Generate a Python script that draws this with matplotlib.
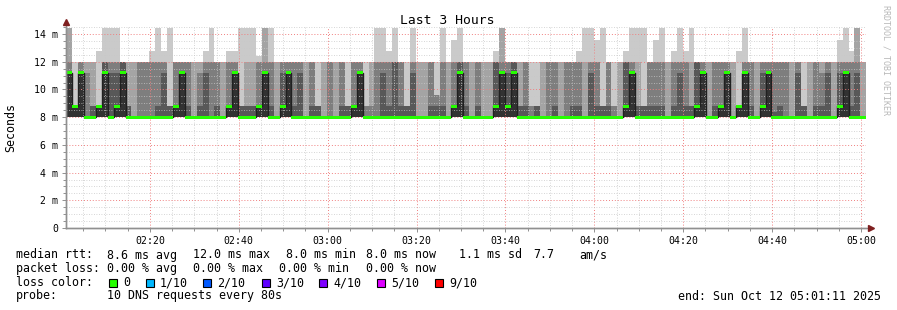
import numpy as np
import matplotlib
matplotlib.use("Agg")
import matplotlib.pyplot as plt

# smokeping "Last 3 Hours", 10 DNS pings every 80 s, values in ms
# the five fastest pings sit on 8.0 ms in every step, so only the upper half is kept
ping_floor = 8.0
median = [11.2, 8.8, 11.2, 8.0, 8.0, 8.8, 11.2, 8.0, 8.8, 11.2,
          8.0, 8.0, 8.0, 8.0, 8.0, 8.0, 8.0, 8.0, 8.8, 11.2,
          8.0, 8.0, 8.0, 8.0, 8.0, 8.0, 8.0, 8.8, 11.2, 8.0,
          8.0, 8.0, 8.8, 11.2, 8.0, 8.0, 8.8, 11.2, 8.0, 8.0,
          8.0, 8.0, 8.0, 8.0, 8.0, 8.0, 8.0, 8.0, 8.8, 11.2,
          8.0, 8.0, 8.0, 8.0, 8.0, 8.0, 8.0, 8.0, 8.0, 8.0,
          8.0, 8.0, 8.0, 8.0, 8.0, 8.8, 11.2, 8.0, 8.0, 8.0,
          8.0, 8.0, 8.8, 11.2, 8.8, 11.2, 8.0, 8.0, 8.0, 8.0,
          8.0, 8.0, 8.0, 8.0, 8.0, 8.0, 8.0, 8.0, 8.0, 8.0,
          8.0, 8.0, 8.0, 8.0, 8.8, 11.2, 8.0, 8.0, 8.0, 8.0,
          8.0, 8.0, 8.0, 8.0, 8.0, 8.0, 8.8, 11.2, 8.0, 8.0,
          8.8, 11.2, 8.0, 8.8, 11.2, 8.0, 8.0, 8.8, 11.2, 8.0,
          8.0, 8.0, 8.0, 8.0, 8.0, 8.0, 8.0, 8.0, 8.0, 8.0,
          8.8, 11.2, 8.0, 8.0, 8.0]
ping7 = [11.2, 8.8, 11.2, 8.0, 8.8, 8.8, 12.0, 11.2, 11.2, 12.0,
         8.8, 8.0, 8.0, 8.0, 8.0, 8.8, 11.2, 8.8, 8.8, 11.2,
         8.8, 8.0, 8.8, 11.2, 8.0, 8.8, 8.0, 8.8, 11.2, 8.8,
         8.8, 8.8, 8.8, 11.2, 8.8, 8.0, 11.2, 11.2, 8.8, 11.2,
         8.0, 8.8, 8.8, 8.0, 8.0, 8.0, 8.8, 8.8, 8.8, 11.2,
         8.0, 8.0, 8.0, 11.2, 8.8, 12.0, 8.8, 8.8, 11.2, 8.0,
         8.0, 8.8, 8.8, 8.8, 8.0, 8.8, 12.0, 8.8, 8.0, 8.8,
         8.0, 8.0, 12.0, 11.2, 11.2, 12.0, 8.8, 8.8, 8.0, 8.8,
         8.0, 8.0, 8.8, 8.0, 8.0, 8.8, 8.8, 8.0, 11.2, 8.8,
         8.8, 8.8, 8.0, 8.0, 12.0, 11.2, 8.8, 8.8, 8.8, 8.8,
         8.8, 8.0, 8.8, 11.2, 8.8, 8.8, 12.0, 11.2, 8.0, 8.8,
         8.8, 11.2, 8.0, 8.8, 11.2, 8.8, 8.0, 11.2, 11.2, 8.4,
         8.8, 8.0, 8.0, 11.2, 8.8, 8.0, 8.8, 8.8, 11.2, 8.0,
         11.2, 11.2, 8.8, 11.2, 8.0]
ping8 = [12.0, 8.8, 12.0, 11.2, 8.8, 8.8, 12.0, 12.0, 12.0, 12.0,
         8.8, 8.0, 12.0, 12.0, 12.0, 12.0, 12.0, 8.8, 12.0, 12.0,
         12.0, 8.0, 11.2, 12.0, 12.0, 12.0, 8.0, 12.0, 12.0, 8.8,
         8.8, 8.8, 12.0, 12.0, 12.0, 8.0, 12.0, 12.0, 12.0, 12.0,
         8.0, 12.0, 8.8, 8.0, 12.0, 8.0, 12.0, 8.8, 12.0, 12.0,
         8.8, 8.8, 12.0, 12.0, 12.0, 12.0, 12.0, 8.8, 12.0, 8.0,
         8.0, 12.0, 9.6, 12.0, 8.0, 12.0, 12.0, 12.0, 8.0, 12.0,
         8.0, 8.0, 12.0, 12.0, 12.0, 12.0, 8.8, 12.0, 8.8, 8.8,
         8.0, 12.0, 12.0, 8.0, 12.0, 12.0, 12.0, 8.0, 12.0, 12.0,
         8.8, 12.0, 8.8, 8.0, 12.0, 12.0, 8.8, 8.8, 12.0, 12.0,
         12.0, 8.0, 12.0, 12.0, 12.0, 8.8, 12.0, 12.0, 8.0, 12.0,
         12.0, 12.0, 8.0, 8.8, 12.0, 12.0, 8.0, 12.0, 12.0, 12.0,
         12.0, 12.0, 8.0, 12.0, 8.8, 8.0, 12.0, 11.2, 12.0, 8.0,
         12.0, 12.0, 12.0, 12.0, 8.0]
ping9 = [14.4, 8.8, 12.0, 12.0, 12.0, 8.8, 12.0, 12.0, 12.0, 12.0,
         12.0, 12.0, 12.0, 12.0, 12.0, 12.0, 12.0, 8.8, 12.0, 12.0,
         12.0, 12.0, 12.0, 12.0, 12.0, 12.0, 12.0, 12.0, 12.0, 8.8,
         12.0, 12.0, 12.0, 14.4, 12.0, 12.0, 12.0, 12.0, 12.0, 12.0,
         12.0, 12.0, 8.8, 12.0, 12.0, 12.0, 12.0, 8.8, 12.0, 12.0,
         8.8, 12.0, 12.0, 12.0, 12.0, 12.0, 12.0, 8.8, 12.0, 12.0,
         12.0, 12.0, 9.6, 12.0, 12.0, 12.0, 12.0, 12.0, 12.0, 12.0,
         12.0, 12.0, 12.0, 14.4, 12.0, 12.0, 12.0, 12.0, 8.8, 8.8,
         12.0, 12.0, 12.0, 12.0, 12.0, 12.0, 12.0, 12.0, 12.0, 12.0,
         8.8, 12.0, 8.8, 12.0, 12.0, 12.0, 12.0, 8.8, 12.0, 12.0,
         12.0, 12.0, 12.0, 12.0, 12.0, 12.0, 12.0, 12.0, 12.0, 12.0,
         12.0, 12.0, 12.0, 8.8, 12.0, 12.0, 12.0, 12.0, 12.0, 12.0,
         12.0, 12.0, 12.0, 12.0, 8.8, 12.0, 12.0, 12.0, 12.0, 12.0,
         12.0, 12.0, 12.0, 14.4, 12.0]
ping10 = [14.4, 12.0, 12.0, 12.0, 12.0, 12.8, 14.4, 14.4, 14.4, 12.0,
          12.0, 12.0, 12.0, 12.0, 12.8, 14.4, 12.8, 14.4, 12.0, 12.0,
          12.0, 12.0, 12.0, 12.8, 14.4, 12.0, 12.0, 12.8, 12.8, 14.4,
          14.4, 14.4, 12.4, 14.4, 14.4, 12.0, 12.0, 12.0, 12.0, 12.0,
          12.0, 12.0, 12.0, 12.0, 12.0, 12.0, 12.0, 12.0, 12.0, 12.0,
          12.0, 12.0, 14.4, 14.4, 12.8, 14.4, 12.0, 12.0, 14.4, 12.0,
          12.0, 12.0, 12.0, 14.4, 12.0, 13.6, 14.4, 12.0, 12.0, 12.0,
          12.0, 12.0, 12.8, 14.4, 12.0, 12.0, 12.0, 12.0, 12.0, 12.0,
          12.0, 12.0, 12.0, 12.0, 12.0, 12.0, 12.8, 14.4, 14.4, 13.6,
          14.4, 12.0, 12.0, 12.0, 12.8, 14.4, 14.4, 14.4, 12.0, 13.6,
          14.4, 12.0, 12.8, 14.4, 12.8, 14.4, 12.0, 12.0, 12.0, 12.0,
          12.0, 12.0, 12.0, 12.8, 14.4, 12.0, 12.0, 12.0, 12.0, 12.0,
          12.0, 12.0, 12.0, 12.0, 12.0, 12.0, 12.0, 12.0, 12.0, 12.0,
          13.6, 14.4, 12.8, 14.4, 12.0]

start_min = 2 * 60 + 1 + 11 / 60   # 02:01:11
step_min = 80 / 60
x_ticks = ["02:20", "02:40", "03:00", "03:20", "03:40", "04:00", "04:20", "04:40", "05:00"]

loss_names = ["0", "1/10", "2/10", "3/10", "4/10", "5/10", "9/10"]
loss_colors = ["#26ff00", "#00b8ff", "#0059ff", "#5e00ff", "#7e00ff", "#dd00ff", "#ff0000"]

W, H = 897, 310
mono = "DejaVu Sans Mono"
fig = plt.figure(figsize=(W / 100, H / 100), dpi=100)
fig.patch.set_facecolor("white")

# plot area in pixels: x 66.3..866.3, y 228 (0 ms) .. 27.1 (14.5 ms)
ax = fig.add_axes([66.3 / W, (H - 228) / H, 800 / W, 200.9 / H])
ax.set_facecolor("white")

n = len(median)
edges = start_min + step_min * np.arange(n + 1)


def stairs(v):
    v = np.asarray(v, dtype=float)
    return np.append(v, v[-1])


base = np.full(n + 1, ping_floor)
shades = ["#cacaca", "#a4a4a4", "#7e7e7e", "#585858", "#323232"]
tops = [ping10, ping9, ping8, ping7, median]
for col, top in zip(shades, tops):
    ax.fill_between(edges, base, stairs(top), step="post", color=col,
                    lw=0, antialiased=False, zorder=1)

# median: thin dark line plus green band (loss 0)
med = stairs(median)
ax.step(edges, med, where="post", color="#202020", lw=1, zorder=3)
sw = 0.11
ax.fill_between(edges, med - sw, med + sw, step="post", color="#26ff00",
                lw=0, antialiased=False, zorder=4)

ax.set_xlim(start_min, start_min + step_min * n)
ax.set_ylim(0, 14.5)

major_x = [2 * 60 + 20 + 20 * i for i in range(len(x_ticks))]
ax.set_xticks(major_x)
ax.set_xticklabels(x_ticks, fontfamily=mono, fontsize=7.1)
ax.set_xticks(np.arange(2 * 60 + 5, 301, 5), minor=True)
ax.set_yticks(np.arange(0, 15, 2))
ax.set_yticklabels(["0"] + ["%d m" % v for v in range(2, 15, 2)], fontfamily=mono, fontsize=7.1)
ax.set_yticks(np.arange(0, 14.6, 0.5), minor=True)

ax.grid(which="minor", color="#c8c8c8", lw=0.6, linestyle=(0, (1, 2)), zorder=2.5)
ax.grid(which="major", color="#f08080", lw=0.7, linestyle=(0, (1, 2)), zorder=2.6)
ax.set_axisbelow(False)
ax.tick_params(which="both", length=2, width=0.7, color="#909090", pad=3)
ax.tick_params(which="major", length=3)

for s in ["top", "right"]:
    ax.spines[s].set_visible(False)
for s in ["left", "bottom"]:
    ax.spines[s].set_color("#909090")
    ax.spines[s].set_linewidth(1)
    ax.spines[s].set_zorder(5)

# axis extensions and arrows
ax.plot([0, 1.006], [0, 0], transform=ax.transAxes, color="#909090", lw=1, clip_on=False, zorder=5)
ax.plot([0, 0], [0, 1.02], transform=ax.transAxes, color="#909090", lw=1, clip_on=False, zorder=5)
ax.plot([1.006], [0], marker=">", ms=4, color="#7f1f1f", transform=ax.transAxes, clip_on=False, zorder=6)
ax.plot([0], [1.025], marker="^", ms=4, color="#7f1f1f", transform=ax.transAxes, clip_on=False, zorder=6)


def px_text(x, y, s, **kw):
    fig.text(x / W, 1 - y / H, s, fontfamily=mono, **kw)


px_text(447, 20, "Last 3 Hours", fontsize=9.4, ha="center", va="center")
px_text(11, 127, "Seconds", fontsize=8.4, rotation=90, ha="center", va="center")
px_text(886, 60, "RRDTOOL / TOBI OETIKER", fontsize=6, rotation=270,
        ha="center", va="center", color="#b8b8b8")

fs = 8.4
rows = [255, 268.5, 282.5, 296]
line1 = [(16, "median rtt:"), (107, "8.6 ms avg"), (193, "12.0 ms max"), (286, "8.0 ms min"),
         (366, "8.0 ms now"), (459, "1.1 ms sd"), (533, "7.7"), (579, "am/s")]
line2 = [(16, "packet loss:"), (107, "0.00 % avg"), (193, "0.00 % max"),
         (279, "0.00 % min"), (366, "0.00 % now")]
for x, s in line1:
    px_text(x, rows[0], s, fontsize=fs, va="center")
for x, s in line2:
    px_text(x, rows[1], s, fontsize=fs, va="center")

px_text(16, rows[2], "loss color:", fontsize=fs, va="center")
box_x = [109, 146, 203, 262, 319, 377, 435]
for bx, name, col in zip(box_x, loss_names, loss_colors):
    fig.patches.append(plt.Rectangle((bx / W, 1 - (rows[2] + 4) / H), 8 / W, 8 / H,
                                     transform=fig.transFigure, facecolor=col,
                                     edgecolor="black", lw=0.8))
    px_text(bx + 14, rows[2], name, fontsize=fs, va="center")

px_text(16, rows[3], "probe:", fontsize=fs, va="center")
px_text(107, rows[3], "10 DNS requests every 80s", fontsize=fs, va="center")
px_text(881, rows[3], "end: Sun Oct 12 05:01:11 2025", fontsize=fs, va="center", ha="right")

fig.savefig("out.png", dpi=100, facecolor="white")
